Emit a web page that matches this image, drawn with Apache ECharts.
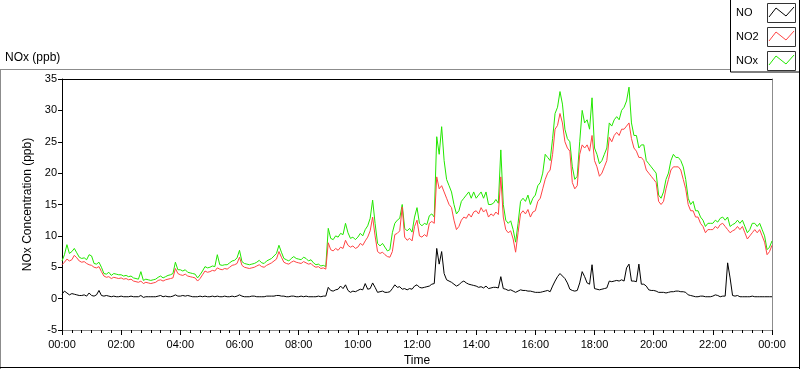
<!DOCTYPE html>
<html><head><meta charset="utf-8">
<script src="https://cdn.jsdelivr.net/npm/echarts@6/dist/echarts.min.js"></script>
<style>html,body{margin:0;padding:0;background:#fff}#c{width:800px;height:369px}</style>
</head><body><div id="c"></div>
<script>
// sample step in minutes (one row = one hour, 12 samples; last value = 24:00)
const stepMinutes = 5;
const seriesNames = ['NO', 'NO2', 'NOx'];
const tickLabels = ['00:00','02:00','04:00','06:00','08:00','10:00','12:00','14:00','16:00','18:00','20:00','22:00','00:00'];
const yTicks = [-5, 0, 5, 10, 15, 20, 25, 30, 35];

const no2Values = [
5.4,5.8,6.3,6.0,6.2,6.9,6.5,6.0,5.8,5.9,5.6,5.4,
5.3,5.0,4.9,5.1,4.3,3.6,3.4,3.5,3.2,3.4,3.3,3.2,
3.3,3.1,3.2,3.0,3.1,2.8,2.7,2.6,2.8,2.4,2.6,2.5,
2.4,2.5,2.6,2.9,3.0,2.8,3.0,3.1,3.2,3.3,4.8,4.0,
3.8,3.7,3.9,3.6,3.5,3.4,3.3,2.8,3.2,3.8,4.4,4.2,
4.3,4.5,4.4,4.9,4.7,4.6,4.8,4.7,5.0,5.3,5.4,5.6,
6.6,5.3,5.0,4.9,4.8,4.9,5.0,5.2,5.4,5.1,5.0,5.3,
5.5,5.7,6.0,6.3,7.5,6.6,5.8,5.6,5.5,5.8,6.0,5.8,
5.7,5.6,5.9,5.7,5.5,5.6,5.2,5.0,5.1,4.8,4.9,4.7,
8.9,7.8,7.6,8.0,7.7,8.2,8.0,9.3,8.5,8.2,8.4,8.0,
8.2,8.8,8.5,9.2,9.8,10.8,13.0,10.0,7.5,7.2,7.4,7.0,
6.7,6.6,7.5,10.2,10.4,10.8,14.6,9.8,9.3,9.6,9.2,11.5,
12.5,10.0,9.8,10.2,9.9,12.0,12.3,12.0,19.4,17.5,18.0,17.0,
16.0,15.0,14.5,12.5,11.0,11.5,12.5,13.0,12.8,13.5,13.0,13.8,
14.0,13.5,14.5,13.8,14.2,13.0,13.5,13.2,13.8,13.4,19.4,13.0,
11.0,10.5,10.8,9.5,7.4,10.5,13.5,14.0,13.5,14.2,13.0,13.8,
14.0,15.5,16.0,17.5,19.0,20.0,20.5,23.0,27.0,27.6,29.5,28.0,
25.0,24.0,23.5,18.5,17.5,18.0,23.0,24.5,24.0,24.5,23.5,26.0,
22.0,21.0,19.5,20.0,21.0,22.0,25.7,25.0,26.0,26.5,26.0,27.0,
27.0,27.5,28.0,25.5,24.0,23.5,22.5,22.5,22.0,20.5,20.0,19.5,
19.0,18.5,15.5,15.0,15.5,17.5,19.0,20.5,21.0,21.0,21.0,20.5,
19.0,17.5,15.0,14.0,14.0,13.0,13.0,12.0,11.5,10.5,11.0,11.0,
11.0,11.5,11.2,11.8,12.0,11.5,11.0,10.5,10.8,11.0,11.5,11.0,
11.5,10.5,9.5,10.0,10.5,11.0,10.5,11.0,10.0,9.0,7.0,7.5,
8.5];

const noxValues = [
6.0,7.0,8.6,7.2,7.5,8.0,7.3,6.6,6.4,6.5,6.2,7.0,
6.8,5.6,5.5,5.8,5.0,4.0,3.9,4.2,3.7,4.0,3.9,3.8,
3.8,3.6,3.7,3.5,3.6,3.3,3.2,3.1,4.3,2.9,3.1,3.0,
2.9,3.0,3.1,3.4,3.6,3.3,3.5,3.7,3.8,4.0,5.8,4.6,
4.6,4.4,4.6,4.2,4.1,4.0,3.9,3.3,3.8,4.4,5.1,4.9,
5.0,5.2,5.1,7.0,5.4,5.3,5.4,5.4,5.7,6.0,6.1,6.5,
7.7,5.9,5.6,5.5,5.4,5.5,5.6,5.8,6.1,5.7,5.6,6.0,
6.2,6.4,6.8,7.2,8.5,7.4,6.4,6.2,6.0,6.4,6.7,6.4,
6.3,6.2,6.6,6.4,6.0,6.2,5.7,5.4,5.5,5.2,5.3,5.1,
11.2,9.6,9.4,10.0,9.8,10.4,10.2,12.0,10.5,9.6,9.8,9.4,
9.8,10.4,10.0,11.0,11.6,12.8,15.7,12.0,8.8,8.4,8.8,8.2,
7.6,7.8,10.5,12.0,12.5,12.8,15.0,11.2,10.8,11.2,10.6,13.0,
14.5,12.0,11.6,12.0,11.8,13.2,13.5,13.0,25.8,23.0,27.4,22.0,
19.0,18.0,17.0,15.0,13.5,14.0,15.5,16.0,16.5,17.0,16.0,17.0,
16.0,16.5,17.0,16.0,17.0,15.0,15.0,15.2,15.8,15.2,23.7,15.0,
12.5,12.0,12.4,11.0,9.0,12.0,15.5,16.0,15.5,16.5,15.0,16.0,
16.5,18.0,18.5,20.0,23.0,22.5,22.0,25.5,29.5,30.5,33.0,31.0,
27.0,25.5,25.0,21.0,19.0,19.5,25.0,30.0,28.0,28.5,27.0,32.0,
24.0,23.0,21.5,22.0,23.0,24.0,28.0,27.5,28.5,29.0,28.5,30.0,
30.5,31.5,33.7,28.0,26.0,26.0,24.0,24.5,24.5,22.0,21.5,21.0,
20.5,20.0,16.5,16.0,17.0,19.0,20.0,22.0,23.0,22.5,22.5,22.0,
21.0,19.0,16.0,15.0,15.5,14.0,14.0,13.0,12.5,11.5,12.0,12.0,
12.0,12.5,12.2,12.8,13.0,12.5,13.0,11.5,11.8,12.0,12.5,12.0,
12.5,11.5,10.5,11.0,12.0,12.0,11.5,12.0,11.0,10.0,7.8,8.2,
9.2];

const noValues = [
0.7,1.2,0.9,0.6,0.8,0.7,0.6,0.5,0.5,0.6,0.4,0.9,
0.5,0.4,0.6,1.3,0.5,0.4,0.5,0.4,0.3,0.4,0.3,0.3,
0.4,0.3,0.3,0.3,0.4,0.3,0.3,0.3,0.5,0.2,0.3,0.3,
0.3,0.3,0.3,0.4,0.5,0.3,0.4,0.3,0.3,0.4,0.6,0.4,
0.4,0.5,0.4,0.5,0.4,0.3,0.3,0.3,0.4,0.3,0.4,0.3,
0.3,0.4,0.3,0.4,0.3,0.3,0.4,0.3,0.3,0.4,0.3,0.4,
0.6,0.4,0.3,0.3,0.3,0.4,0.4,0.3,0.3,0.3,0.3,0.4,
0.4,0.4,0.4,0.5,0.5,0.4,0.4,0.3,0.3,0.4,0.4,0.3,
0.3,0.4,0.3,0.4,0.3,0.3,0.3,0.3,0.4,0.3,0.4,0.4,
1.8,1.3,1.2,1.4,1.5,2.0,1.6,2.2,1.3,1.0,1.2,1.1,
1.3,1.5,1.4,2.4,1.5,1.6,2.5,1.8,1.0,1.1,1.2,1.0,
1.0,1.1,1.6,2.2,1.8,1.9,1.5,1.6,1.4,1.6,1.5,2.0,
2.2,1.8,1.7,1.8,1.9,2.0,2.3,2.4,8.0,5.5,7.5,4.0,
3.0,2.8,2.6,2.3,2.0,2.2,2.6,2.8,2.5,2.3,2.2,2.1,
2.0,1.8,1.9,1.7,2.0,1.6,1.7,1.8,1.8,1.7,3.5,1.6,
1.5,1.3,1.4,1.2,1.0,1.2,1.4,1.3,1.3,1.2,1.2,1.1,
1.0,1.0,1.0,1.1,1.2,1.3,1.1,2.0,2.8,3.5,4.0,3.6,
3.2,2.5,1.5,1.3,1.2,1.3,2.5,4.3,3.5,2.5,2.3,5.4,
1.6,1.5,1.4,1.5,1.6,1.7,2.8,2.7,2.8,2.9,2.8,3.0,
2.8,4.9,5.5,2.8,2.8,2.7,5.5,2.3,2.3,2.0,1.4,1.3,
1.3,1.2,1.0,1.0,1.0,0.9,1.0,1.1,1.1,1.2,1.2,1.1,
1.1,1.0,0.6,0.5,0.4,0.3,0.3,0.4,0.4,0.3,0.3,0.3,
0.4,0.6,0.5,0.3,0.4,0.4,5.7,3.3,0.5,0.4,0.5,0.3,
0.3,0.3,0.3,0.3,0.4,0.3,0.3,0.3,0.3,0.3,0.3,0.3,
0.3];

function toPairs(arr){ return arr.map((v,i)=>[i*stepMinutes, v]); }

const FONT = 'Liberation Sans, Arial, sans-serif';
const chart = echarts.init(document.getElementById('c'), null, {renderer:'canvas'});

function zig(y0){
  return {type:'polyline', shape:{points:[[769,y0+14],[776,y0+5],[786,y0+13],[794,y0+4]]}, style:{fill:null, lineWidth:1}};
}
const legendColors = ['#000000','#ff4444','#22e800'];
const graphics = [
  {type:'line', shape:{x1:0,y1:69.5,x2:730,y2:69.5}, style:{stroke:'#8c8c8c',lineWidth:1}},
  {type:'line', shape:{x1:0.5,y1:69.5,x2:0.5,y2:369}, style:{stroke:'#8c8c8c',lineWidth:1}},
  {type:'line', shape:{x1:0,y1:367.5,x2:800,y2:367.5}, style:{stroke:'#000',lineWidth:1}},
  {type:'line', shape:{x1:799.5,y1:0,x2:799.5,y2:369}, style:{stroke:'#000',lineWidth:1}},
  {type:'rect', shape:{x:730.5,y:-1,width:69,height:73}, style:{fill:'#fff',stroke:'#000',lineWidth:1}},
  {type:'text', left:5, top:52, style:{text:'NOx (ppb)', font:'12px '+FONT, fill:'#000'}}
];
seriesNames.forEach((n,k)=>{
  const y0 = 3 + k*24;
  graphics.push({type:'text', left:736, top:y0+4, style:{text:n, font:'11px '+FONT, fill:'#000'}});
  graphics.push({type:'rect', shape:{x:767.5,y:y0+0.5,width:28,height:19}, style:{fill:'#fff',stroke:'#333',lineWidth:1}});
  const z = zig(y0); z.style.stroke = legendColors[k];
  graphics.push(z);
});

const option = {
  animation:false,
  backgroundColor:'#fff',
  textStyle:{fontFamily:FONT},
  grid:{left:62, top:79, right:28, bottom:39, containLabel:false, outerBoundsMode:'none'},
  xAxis:[{
    type:'value', min:0, max:1440, interval:120,
    name:'Time', nameLocation:'middle', nameGap:25,
    nameTextStyle:{fontSize:12, color:'#000', fontFamily:FONT},
    axisLine:{show:true, onZero:false, lineStyle:{color:'#8c8c8c', width:1}},
    axisTick:{show:true, length:5, lineStyle:{color:'#000'}},
    minorTick:{show:true, splitNumber:6, length:3, lineStyle:{color:'#000'}},
    splitLine:{show:false},
    axisLabel:{fontSize:11, color:'#000', margin:9, fontFamily:FONT,
      formatter:(v)=>tickLabels[Math.round(v/120)]}
  },{
    type:'value', position:'top', min:0, max:1440,
    axisLine:{show:true, onZero:false, lineStyle:{color:'#000', width:1}},
    axisTick:{show:false}, axisLabel:{show:false}, splitLine:{show:false}
  }],
  yAxis:[{
    type:'value', min:-5, max:35, interval:5,
    name:'NOx Concentration (ppb)', nameLocation:'middle', nameGap:25,
    nameTextStyle:{fontSize:12, color:'#000', fontFamily:FONT},
    axisLine:{show:true, onZero:false, lineStyle:{color:'#000', width:1}},
    axisTick:{show:true, length:4, lineStyle:{color:'#000'}},
    splitLine:{show:false},
    axisLabel:{fontSize:11, color:'#000', margin:5, fontFamily:FONT,
      formatter:(v)=> yTicks.includes(v) ? String(v) : ''}
  },{
    type:'value', position:'right', min:-5, max:35,
    axisLine:{show:true, onZero:false, lineStyle:{color:'#8c8c8c', width:1}},
    axisTick:{show:false}, axisLabel:{show:false}, splitLine:{show:false}
  }],
  graphic:graphics,
  series:[
    {name:'NOx', type:'line', data:toPairs(noxValues), showSymbol:false, symbol:'none', lineStyle:{color:'#22e800', width:1}, z:2},
    {name:'NO2', type:'line', data:toPairs(no2Values), showSymbol:false, symbol:'none', lineStyle:{color:'#ff4444', width:1}, z:3},
    {name:'NO', type:'line', data:toPairs(noValues), showSymbol:false, symbol:'none', lineStyle:{color:'#000', width:1}, z:4}
  ]
};
chart.setOption(option);
</script>
</body></html>
